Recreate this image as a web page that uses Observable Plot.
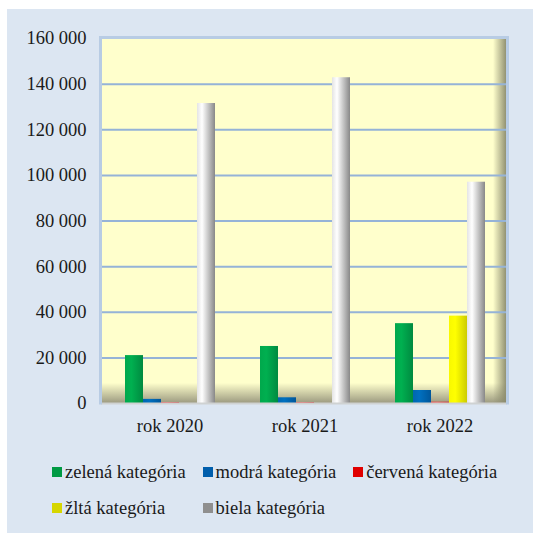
<!DOCTYPE html>
<html>
<head>
<meta charset="utf-8">
<script src="https://cdn.jsdelivr.net/npm/d3@7"></script>
<script src="https://cdn.jsdelivr.net/npm/@observablehq/plot@0.6"></script>
<style>
  html, body { margin: 0; padding: 0; background: #ffffff; }
  #panel { position: absolute; left: 7px; top: 9px; width: 526px; height: 524px; background: #dce6f2; font-family: 'Liberation Serif', 'Times New Roman', serif; color: #1a1a1a; }
  #panel svg { display: block; }
  #panel svg text { font-family: 'Liberation Serif', 'Times New Roman', serif; }
  .legend { display: grid; grid-template-columns: 150.6px 150.6px 150.6px; padding-left: 45px; padding-top: 5px; }
  .item { height: 36px; display: flex; align-items: center; font-size: 18.5px; white-space: nowrap; }
  .sw { width: 10px; height: 10px; margin-right: 3px; flex: none; }
</style>
</head>
<body>
<div id="panel"></div>
<script>
const years = ["rok 2020", "rok 2021", "rok 2022"];
const categories = ["zelená kategória", "modrá kategória", "červená kategória", "žltá kategória", "biela kategória"];
const zelena = [21000, 25000, 35000];
const modra = [1800, 2500, 5700];
const cervena = [400, 400, 600];
const zlta = [0, 0, 38300];
const biela = [131500, 142800, 97000];
const yTicks = [0, 20000, 40000, 60000, 80000, 100000, 120000, 140000, 160000];
const legendColors = ["#009a44", "#005eac", "#e00000", "#d6d600", "#8f8f8f"];

const series = [zelena, modra, cervena, zlta, biela];
const data = years.flatMap((year, i) => categories.map((cat, j) => ({year, cat, value: series[j][i]})));
const gradIds = ["gGreen", "gBlue", "gRed", "gYellow", "gGray"];

const loc = d3.formatLocale({thousands: " ", grouping: [3], decimal: ",", currency: ["", " €"]});
const fmt = loc.format(",");
const serif = "'Liberation Serif', 'Times New Roman', serif";

const plot = Plot.plot({
  width: 526,
  height: 440,
  marginLeft: 94,
  marginTop: 29,
  marginRight: 26,
  marginBottom: 46,
  style: {background: "transparent", fontFamily: serif, fontSize: "18.5px", color: "#1a1a1a", overflow: "visible"},
  fx: {domain: years, padding: 0, label: null, tickSize: 0, tickPadding: 15, axis: "bottom"},
  x: {domain: categories, paddingInner: 0, paddingOuter: 1.12, axis: null},
  y: {domain: [0, 160000], ticks: yTicks, tickFormat: fmt, tickSize: 0, tickPadding: 16, label: null},
  color: {domain: categories, range: gradIds.map(id => `url(#${id})`)},
  marks: [
    Plot.gridY(yTicks.filter(t => t > 0 && t < 160000), {stroke: "#95b3d7", strokeWidth: 2, strokeOpacity: 1}),
    Plot.barY(data, {fx: "year", x: "cat", y: "value", fill: "cat"})
  ]
});

const svg = d3.select(plot);
const defs = svg.insert("defs", ":first-child");
function hgrad(id, stops) {
  const g = defs.append("linearGradient").attr("id", id).attr("x1", 0).attr("x2", 1).attr("y1", 0).attr("y2", 0);
  stops.forEach(([o, c, op]) => g.append("stop").attr("offset", o).attr("stop-color", c).attr("stop-opacity", op == null ? 1 : op));
}
function vgrad(id, stops) {
  const g = defs.append("linearGradient").attr("id", id).attr("x1", 0).attr("x2", 0).attr("y1", 0).attr("y2", 1);
  stops.forEach(([o, c, op]) => g.append("stop").attr("offset", o).attr("stop-color", c).attr("stop-opacity", op == null ? 1 : op));
}
hgrad("gGreen", [[0, "#00a84c"], [0.35, "#00b050"], [1, "#008a40"]]);
hgrad("gBlue", [[0, "#0066b0"], [0.35, "#0070c0"], [1, "#00569a"]]);
hgrad("gRed", [[0, "#f04040"], [0.35, "#f05050"], [1, "#c83030"]]);
hgrad("gYellow", [[0, "#f8f800"], [0.35, "#ffff00"], [1, "#cccc00"]]);
hgrad("gGray", [[0, "#e4e4e4"], [0.28, "#ffffff"], [1, "#888888"]]);
vgrad("bgGrad", [[0, "#ffffcc"], [0.945, "#ffffcc"], [1, "#9c9a80"]]);
hgrad("shadowR", [[0, "#8a8a6c", 0], [1, "#8a8a6c", 1]]);

// plotting area background and border, placed with the library's scales
const fxS = plot.scale("fx");
const yS = plot.scale("y");
const x0 = Math.min(...fxS.range), x1 = Math.max(...fxS.range);
const yTop = Math.min(...yS.range), yBot = Math.max(...yS.range);
const bg = svg.insert("g", "defs + *");
bg.append("rect").attr("x", x0).attr("y", yTop).attr("width", x1 - x0).attr("height", yBot - yTop).attr("fill", "url(#bgGrad)");
bg.append("rect").attr("x", x1 - 14).attr("y", yTop).attr("width", 14).attr("height", yBot - yTop).attr("fill", "url(#shadowR)");

const border = svg.append("g");
border.append("line").attr("x1", x0).attr("x2", x1).attr("y1", yBot + 0.5).attr("y2", yBot + 0.5).attr("stroke", "#cfd2d2").attr("stroke-width", 2);
border.append("line").attr("x1", x0 - 1).attr("x2", x1 + 1).attr("y1", yTop - 0.5).attr("y2", yTop - 0.5).attr("stroke", "#b8cce4").attr("stroke-width", 3);
border.append("line").attr("x1", x0 - 0.5).attr("x2", x0 - 0.5).attr("y1", yTop - 2).attr("y2", yBot + 1.5).attr("stroke", "#b8cce4").attr("stroke-width", 3);
border.append("line").attr("x1", x1 + 0.5).attr("x2", x1 + 0.5).attr("y1", yTop - 2).attr("y2", yBot + 1.5).attr("stroke", "#b8cce4").attr("stroke-width", 3);

const panel = document.getElementById("panel");
panel.appendChild(plot);

const legend = document.createElement("div");
legend.className = "legend";
categories.forEach((c, i) => {
  const it = document.createElement("div");
  it.className = "item";
  const sw = document.createElement("span");
  sw.className = "sw";
  sw.style.background = legendColors[i];
  const t = document.createElement("span");
  t.textContent = c;
  it.appendChild(sw);
  it.appendChild(t);
  legend.appendChild(it);
});
panel.appendChild(legend);
</script>
</body>
</html>
